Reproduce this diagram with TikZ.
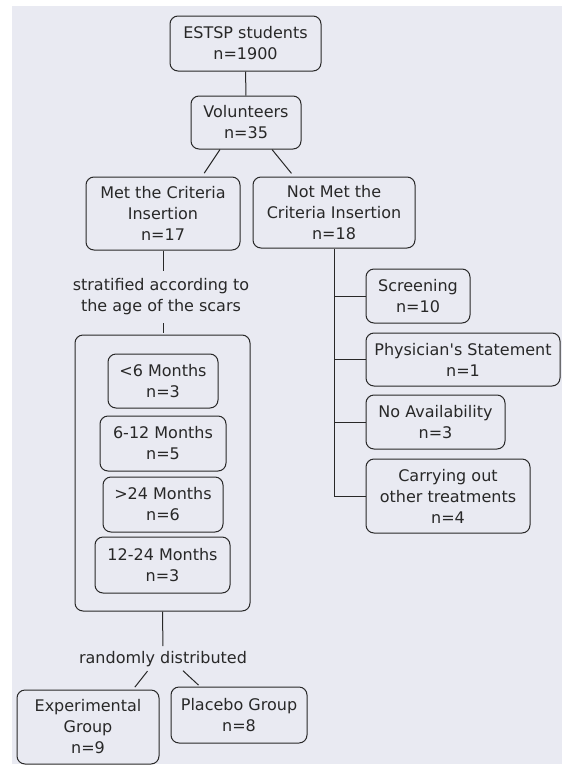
\documentclass[tikz,border=0pt]{standalone}
\usepackage{fontspec}
\setmainfont{DejaVu Sans}
\usetikzlibrary{positioning,calc}
\definecolor{paper}{RGB}{233,234,242}
\definecolor{ink}{RGB}{40,40,40}

\begin{document}
\begin{tikzpicture}[x=1pt,y=-1pt,
		box/.style={draw=ink, line width=1pt, rounded corners=8pt, align=center, inner sep=3pt, text=ink},
		note/.style={align=center, inner sep=1pt, text=ink},
		link/.style={draw=ink, line width=1pt},
		font=\fontsize{16}{21}\selectfont
		]
	\useasboundingbox (0,0) rectangle (562,766);
	\fill[paper] (12,6) rectangle (562,764);

	% --- tronc commun ---
	\node[box, minimum width=151pt, minimum height=55pt] (estsp) at (245.5,43.5) {ESTSP students\\n=1900};
	\node[box, minimum width=110pt, minimum height=53pt] (vol) at (246,122.5) {Volunteers\\n=35};
	\node[box, minimum width=154pt, minimum height=73pt] (met) at (163,213.5) {Met the Criteria\\Insertion\\n=17};
	\node[box, minimum width=162pt, minimum height=71pt] (notmet) at (334,212.5) {Not Met the\\Criteria Insertion\\n=18};

	\draw[link] (estsp) -- (vol);
	\draw[link, shorten >=4pt] ([xshift=-26pt]vol.south) -- ([xshift=39pt]met.north);
	\draw[link, shorten >=4pt] ([xshift=26pt]vol.south) -- ([xshift=-40pt]notmet.north);

	% --- branche gauche : stratification ---
	\node[note] (strat) at (161,297) {stratified according to\\the age of the scars};
	\node[box, minimum width=175pt, minimum height=276pt] (ages) at (162.5,473) {};
	\node[box, minimum width=110pt, minimum height=54pt] (lt6) at (163,381) {<6 Months\\n=3};
	\node[box, minimum width=126pt, minimum height=55pt] (m612) at (163,443.5) {6-12 Months\\n=5};
	\node[box, minimum width=120pt, minimum height=55pt] (gt24) at (163,504.5) {>24 Months\\n=6};
	\node[box, minimum width=135pt, minimum height=56pt] (m1224) at (162.5,565) {12-24 Months\\n=3};

	\draw[link, shorten >=7pt] (met.south) -- (strat.north -| met.south);
	\draw[link, shorten <=7pt, shorten >=2pt] (strat.south -| met.south) -- (ages.north -| met.south);

	% --- randomisation ---
	\node[note] (random) at (163,659) {randomly distributed};
	\node[box, minimum width=142pt, minimum height=74pt] (exper) at (88,727) {Experimental\\Group\\n=9};
	\node[box, minimum width=136pt, minimum height=56pt] (placebo) at (239,715) {Placebo Group\\n=8};

	\draw[link, shorten >=4pt] (ages.south) -- (random.north);
	\draw[link, shorten <=4pt, shorten >=3pt] ([xshift=-13pt]random.south) -- ([xshift=45pt]exper.north);
	\draw[link, shorten <=4pt, shorten >=2pt] ([xshift=17pt]random.south) -- ([xshift=-39pt]placebo.north);

	% --- branche droite : exclusions ---
	\node[box, minimum width=104pt, minimum height=54pt] (screen) at (418,296) {Screening\\n=10};
	\node[box, minimum width=194pt, minimum height=53pt] (phys) at (463,359.5) {Physician\textquotesingle s Statement\\n=1};
	\node[box, minimum width=139pt, minimum height=54pt] (noavail) at (435.5,422) {No Availability\\n=3};
	\node[box, minimum width=164pt, minimum height=74pt] (other) at (448,496) {Carrying out\\other treatments\\n=4};

	\draw[link] (notmet.south) |- (other.west);
	\draw[link] (notmet.south |- screen.west) -- (screen.west);
	\draw[link] (notmet.south |- phys.west) -- (phys.west);
	\draw[link] (notmet.south |- noavail.west) -- (noavail.west);

\end{tikzpicture}
\end{document}
